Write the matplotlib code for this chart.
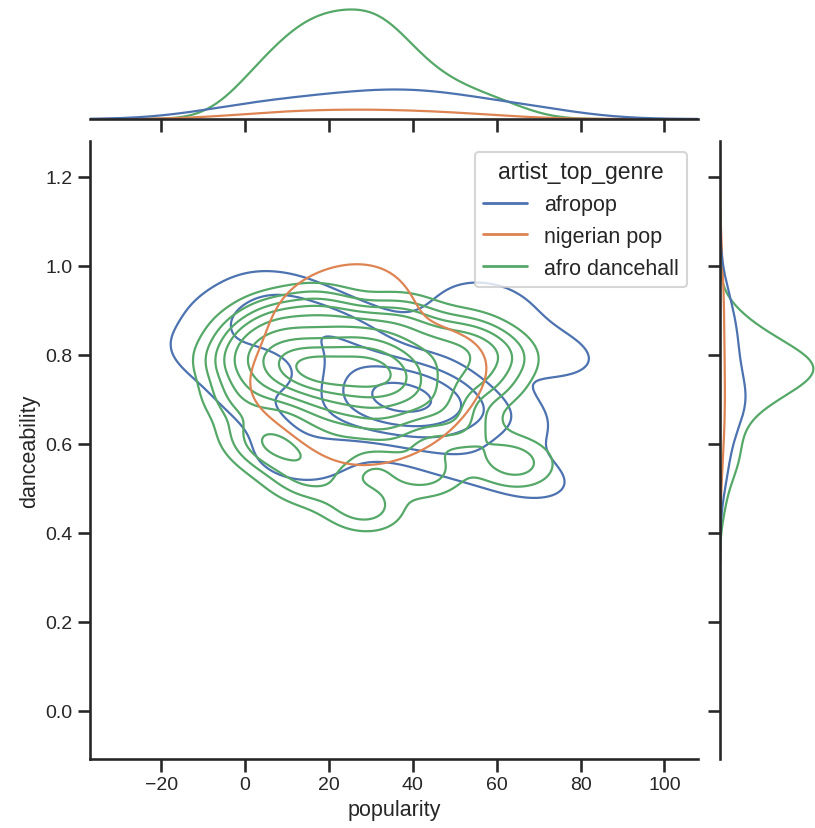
import pandas as pd
import matplotlib.pyplot as plt
import seaborn as sns
from matplotlib.lines import Line2D

# puntos estimados a ojo (popularity, danceability) por genero
genres = ["afropop", "nigerian pop", "afro dancehall"]
palette = ["#4c72b0", "#dd8452", "#55a868"]

afro_dancehall_pop = [-2, 0, 2, 4, 5, 6, 8, 8, 10, 10, 31, 12, 13, 14, 15, 15, 16, 17,
                      18, 18, 19, 20, 21, 22, 22, 23, 24, 25, 26, 27, 28, 29, 30, 31,
                      32, 33, 34, 35, 36, 38, 40, 42, 44, 46, 48, 50, 53, 56, 60, 64,
                      33, 30, 36, 40]
afro_dancehall_dance = [0.78, 0.70, 0.84, 0.62, 0.80, 0.74, 0.88, 0.58, 0.76, 0.80, 0.68,
                        0.78, 0.84, 0.74, 0.52, 0.77, 0.80, 0.72, 0.76, 0.90, 0.66, 0.78,
                        0.74, 0.82, 0.58, 0.76, 0.70, 0.86, 0.79, 0.73, 0.46, 0.81, 0.75,
                        0.68, 0.84, 0.77, 0.62, 0.80, 0.72, 0.88, 0.76, 0.54, 0.82, 0.70,
                        0.78, 0.64, 0.84, 0.74, 0.80, 0.56,
                        0.76, 0.77, 0.74, 0.70]

afropop_pop = [-8, -2, 4, 8, 12, 16, 20, 24, 26, 30, 32, 36, 38, 40, 44, 46, 48, 52,
               58, 62, 68, 74]
afropop_dance = [0.80, 0.88, 0.70, 0.94, 0.56, 0.84, 0.64, 0.86, 0.78, 0.70, 0.71, 0.68,
                 0.69, 0.72, 0.70, 0.72, 0.58, 0.84, 0.92, 0.66, 0.52, 0.80]

nigerian_pop_pop = [4, 14, 24, 32, 42, 54]
nigerian_pop_dance = [0.72, 0.90, 0.60, 0.96, 0.66, 0.80]


def armar_df():
    partes = []
    for genero, x, y in [("afropop", afropop_pop, afropop_dance),
                         ("nigerian pop", nigerian_pop_pop, nigerian_pop_dance),
                         ("afro dancehall", afro_dancehall_pop, afro_dancehall_dance)]:
        partes.append(pd.DataFrame({"popularity": x, "danceability": y,
                                    "artist_top_genre": genero}))
    return pd.concat(partes, ignore_index=True)


df = armar_df()
colores = dict(zip(genres, palette))

sns.set_theme(style="ticks", context="talk")
plt.rcParams['font.family'] = ['Liberation Sans', 'DejaVu Sans']

W, H = 815, 829
fig = plt.figure(figsize=(W / 100, H / 100), dpi=100)


def ejes_px(izq, arriba, der, abajo, **kw):
    return fig.add_axes([izq / W, 1 - abajo / H, (der - izq) / W, (abajo - arriba) / H], **kw)


ax = ejes_px(90, 142, 698, 760)
ax_top = ejes_px(90, 5, 698, 120, sharex=ax)
ax_right = ejes_px(720, 142, 818, 760, sharey=ax)

# contornos: afropop y afro dancehall juntos, nigerian pop con un solo nivel
otros = df[df["artist_top_genre"] != "nigerian pop"]
sns.kdeplot(data=otros, x="popularity", y="danceability", hue="artist_top_genre",
            hue_order=["afropop", "afro dancehall"], palette=colores, ax=ax,
            linewidths=1.6, bw_adjust=0.8, legend=False)
nig = df[df["artist_top_genre"] == "nigerian pop"]
sns.kdeplot(data=nig, x="popularity", y="danceability", color=colores["nigerian pop"],
            ax=ax, levels=[0.5], linewidths=1.6)

sns.kdeplot(data=df, x="popularity", hue="artist_top_genre", hue_order=genres,
            palette=palette, ax=ax_top, legend=False, linewidth=1.6)
sns.kdeplot(data=df, y="danceability", hue="artist_top_genre", hue_order=genres,
            palette=palette, ax=ax_right, legend=False, linewidth=1.6)

ax.set_xlim(-37, 108)
ax.set_ylim(-0.108, 1.28)
ax.set_xticks([-20, 0, 20, 40, 60, 80, 100])
ax.set_yticks([0.0, 0.2, 0.4, 0.6, 0.8, 1.0, 1.2])
ax.tick_params(labelsize=14)
ax.set_xlabel("popularity", fontsize=15.5)
ax.set_ylabel("danceability", fontsize=15.5)
sns.despine(ax=ax)

handles = [Line2D([], [], color=colores[g], lw=2) for g in genres]
ax.legend(handles, genres, title="artist_top_genre", loc="upper right",
          fontsize=15.5, title_fontsize=16.5)

sns.despine(ax=ax_top, left=True)
ax_top.tick_params(axis="x", labelbottom=False)
ax_top.tick_params(axis="y", left=False, labelleft=False)
ax_top.set_xlabel("")
ax_top.set_ylabel("")

sns.despine(ax=ax_right, bottom=True)
ax_right.tick_params(axis="y", labelleft=False)
ax_right.tick_params(axis="x", bottom=False, labelbottom=False)
ax_right.set_xlabel("")
ax_right.set_ylabel("")

fig.savefig("out.png", dpi=100)
